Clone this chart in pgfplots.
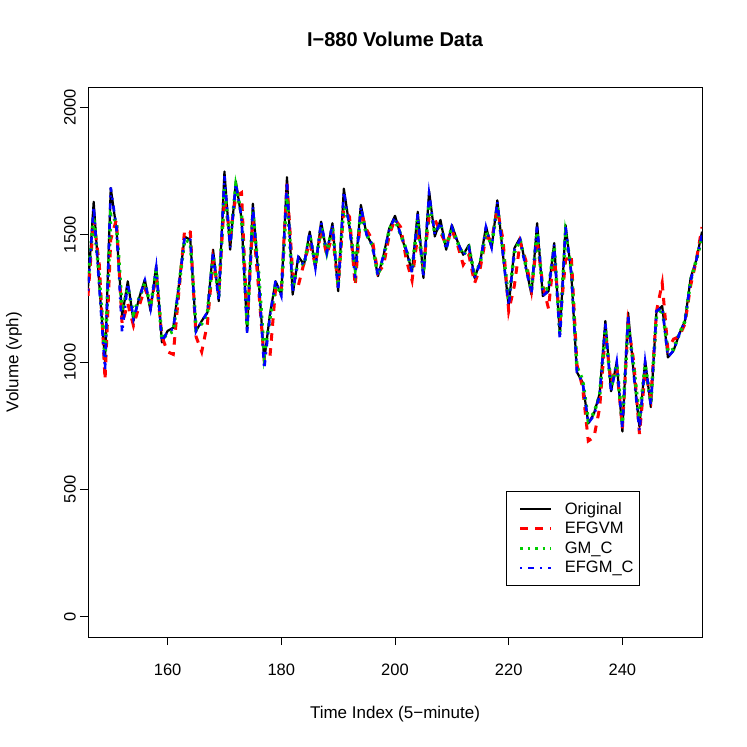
\documentclass[border=0pt]{standalone}
\usepackage{fontspec}
\setmainfont{Liberation Sans}
\usepackage{pgfplots}
\pgfplotsset{compat=1.18}
\usepackage{pgfplotstable}

\pgfplotstableread{
x orig efgvm gmc efgmc
146 1290 1260 1320 1280
147 1629 1560 1570 1610
148 1300 1380 1330 1290
149 1000 930 1020 970
150 1683 1480 1580 1685
151 1524 1560 1550 1530
152 1181 1150 1200 1116
153 1317 1230 1290 1310
154 1161 1143 1190 1170
155 1252 1220 1250 1250
156 1324 1290 1310 1320
157 1200 1230 1220 1210
158 1380 1330 1360 1370
159 1077 1100 1090 1080
160 1122 1040 1110 1120
161 1135 1030 1120 1130
162 1305 1280 1300 1300
163 1492 1519 1480 1490
164 1480 1510 1470 1480
165 1122 1100 1130 1120
166 1161 1040 1150 1160
167 1194 1150 1190 1195
168 1441 1400 1420 1430
169 1239 1270 1260 1240
170 1748 1640 1680 1730
171 1441 1500 1470 1450
172 1710 1650 1690 1700
173 1564 1665 1580 1570
174 1122 1150 1140 1110
175 1622 1560 1590 1610
176 1330 1290 1350 1330
177 1005 1005 1030 973
178 1187 1020 1170 1180
179 1317 1290 1300 1320
180 1265 1280 1270 1260
181 1726 1700 1660 1710
182 1265 1350 1290 1270
183 1415 1300 1400 1410
184 1382 1390 1380 1380
185 1512 1470 1500 1510
186 1369 1380 1380 1370
187 1551 1520 1530 1550
188 1427 1420 1430 1430
189 1545 1500 1530 1540
190 1278 1300 1300 1280
191 1681 1600 1620 1670
192 1530 1570 1540 1530
193 1360 1300 1370 1330
194 1617 1590 1590 1610
195 1500 1520 1500 1500
196 1460 1480 1460 1460
197 1337 1350 1340 1340
198 1421 1380 1410 1420
199 1525 1500 1520 1520
200 1574 1560 1560 1570
201 1500 1530 1500 1500
202 1434 1400 1440 1440
203 1356 1320 1360 1350
204 1590 1500 1560 1580
205 1330 1380 1350 1330
206 1671 1570 1620 1660
207 1493 1560 1510 1500
208 1558 1510 1540 1550
209 1441 1460 1450 1440
210 1538 1520 1530 1530
211 1473 1460 1470 1470
212 1421 1382 1420 1420
213 1460 1420 1450 1450
214 1330 1310 1340 1330
215 1395 1370 1390 1390
216 1532 1490 1510 1530
217 1447 1480 1460 1450
218 1635 1600 1610 1630
219 1420 1480 1440 1420
220 1220 1200 1240 1220
221 1447 1300 1430 1440
222 1488 1470 1480 1480
223 1377 1400 1380 1370
224 1265 1280 1280 1270
225 1545 1480 1510 1540
226 1259 1300 1280 1260
227 1278 1210 1290 1280
228 1467 1430 1450 1460
229 1103 1150 1120 1090
230 1538 1400 1500 1530
231 1350 1420 1370 1350
232 960 990 980 960
233 920 900 930 920
234 759 690 770 760
235 798 705 800 790
236 876 820 870 870
237 1161 1110 1130 1150
238 885 920 900 880
239 999 980 990 1000
240 727 740 760 740
241 1194 1150 1150 1180
242 953 1000 980 950
243 745 717 780 730
244 1005 960 990 1000
245 823 860 840 830
246 1200 1200 1180 1200
247 1220 1310 1210 1215
248 1018 1050 1040 1020
249 1045 1090 1050 1045
250 1110 1100 1110 1110
251 1161 1150 1160 1160
252 1330 1300 1320 1320
253 1401 1400 1400 1400
254 1512 1530 1490 1500
}\datatable

\definecolor{rred}{RGB}{255,0,0}
\definecolor{rgreen}{RGB}{0,205,0}
\definecolor{rblue}{RGB}{0,0,255}

\begin{document}
\begin{tikzpicture}
\begin{axis}[
  scale only axis, width=614bp, height=550bp,
  xmin=146, xmax=254, ymin=-80, ymax=2080,
  xtick={160,180,200,220,240}, ytick={0,500,1000,1500,2000},
  tick align=outside, major tick length=8bp,
  axis line style={line width=0.8bp},
  every tick/.style={line width=0.8bp, black},
  xtick pos=bottom, ytick pos=left,
  every tick label/.append style={font=\fontsize{16.5bp}{19bp}\selectfont},
  /pgf/number format/assume math mode=true,
  /pgf/number format/1000 sep={},
  xticklabel style={anchor=center, yshift=-25bp},
  yticklabel style={anchor=center, rotate=90, yshift=10bp},
  title={I−880 Volume Data},
  title style={at={(axis description cs:0.5,1)}, anchor=center, yshift=42bp, font=\bfseries\fontsize{20bp}{24bp}\selectfont},
  xlabel={Time Index (5−minute)},
  xlabel style={at={(axis description cs:0.5,0)}, anchor=center, yshift=-77bp, font=\fontsize{17bp}{20bp}\selectfont},
  ylabel={Volume (vph)},
  ylabel style={at={(axis description cs:0,0.5)}, anchor=center, yshift=74bp, font=\fontsize{17bp}{20bp}\selectfont},
  legend style={at={(rel axis cs:0.899,0.093)}, anchor=south east, draw=black, line width=0.8bp,
     font=\fontsize{16.5bp}{19bp}\selectfont, inner xsep=4bp, inner ysep=9bp, row sep=2.5bp,
     column sep=10bp, cells={anchor=west}},
  legend image code/.code={\path (0bp,0bp); \draw[#1] (8bp,0bp) -- (39bp,0bp);},
  legend cell align=left,
]
\addplot[black, line width=2.2bp, line join=round] table[x=x,y=orig]{\datatable};
\addlegendentry{Original}
\addplot[rred, line width=3bp, dash pattern=on 7.5bp off 7.5bp] table[x=x,y=efgvm]{\datatable};
\addlegendentry{EFGVM}
\addplot[rgreen, line width=3.5bp, dash pattern=on 2.5bp off 5bp] table[x=x,y=gmc]{\datatable};
\addlegendentry{GM\_C}
\addplot[rblue, line width=2.6bp, dash pattern=on 2bp off 6bp on 6bp off 6bp] table[x=x,y=efgmc]{\datatable};
\addlegendentry{EFGM\_C}
\end{axis}
\path (current axis.south west) ++(-88bp,-110bp) rectangle ++(747bp,747bp);
\end{tikzpicture}
\end{document}
